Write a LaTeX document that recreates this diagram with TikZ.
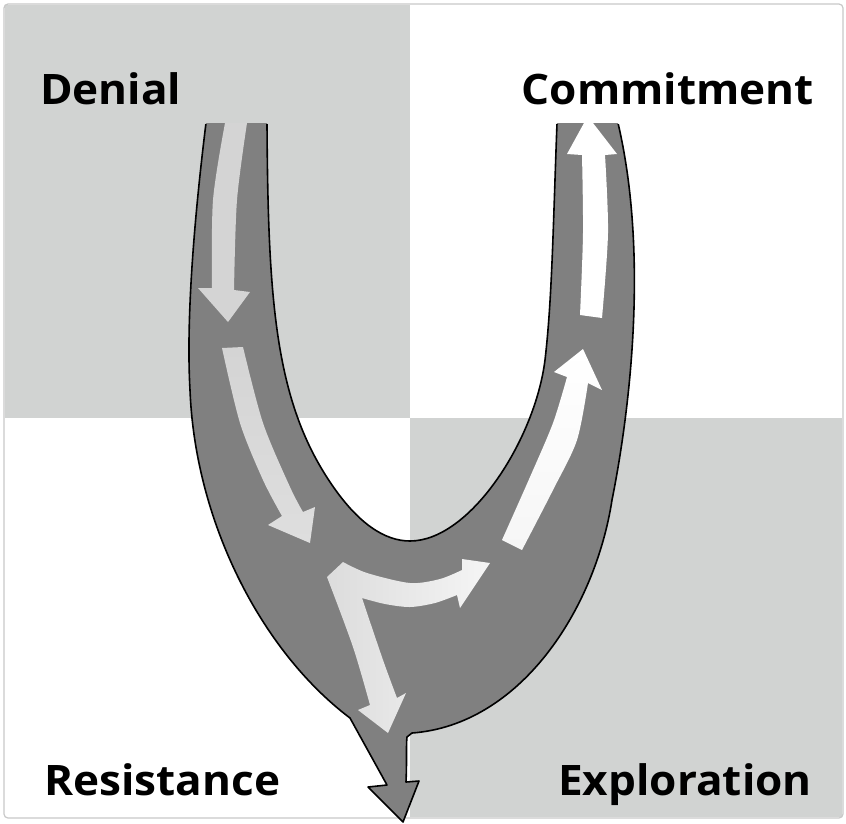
\documentclass[tikz,border=0pt]{standalone}
\usepackage{fontspec}
\setmainfont{Open Sans}
\definecolor{bggray}{RGB}{209,211,210}
\definecolor{ufill}{RGB}{128,128,128}
\definecolor{bordergray}{RGB}{200,200,200}
\definecolor{arrA}{RGB}{212,212,212}
\tikzset{
  lbl/.style={font=\fontsize{42}{44}\selectfont\bfseries, inner sep=0pt, xscale=1.05},
  uline/.style={draw=black, line width=1.6pt, line join=round},
}
\begin{document}
\begin{tikzpicture}[x=1pt,y=-1pt]
\useasboundingbox (0,0) rectangle (846,823);
\fill[white] (0,0) rectangle (846,823);
\fill[bggray] (5,5) rectangle (410,418);
\fill[bggray] (410,418) rectangle (842,817);
\draw[bordergray, line width=1.2pt, rounded corners=4pt] (4,4) rectangle (843,818);

\def\Upath{(206,123) .. controls (194,220) and (186,320) .. (190,390) .. controls (195,520) and (260,650) .. (350,718) -- (387,785) -- (368,787) -- (403,822) -- (419,781) -- (406,782) .. controls (407,760) and (406,745) .. (407,737) -- (412,733) .. controls (520,725) and (595,610) .. (612,500) .. controls (628,420) and (650,260) .. (618,123) -- (557,123) .. controls (553,230) and (552,300) .. (545,360) .. controls (535,440) and (470,541) .. (410,541) .. controls (385,541) and (358,524) .. (330,482) .. controls (275,400) and (268,300) .. (267,123) -- cycle}

\fill[ufill] \Upath;
\begin{scope}
\clip (0,124.5) rectangle (846,830);
\draw[uline] \Upath;
\end{scope}

% arrow 1 (Denial, down)
\fill[arrA] plot[smooth] coordinates {(225,123) (213,200) (212,288)} -- (198,288) -- (228,322) -- (250,292) -- (234,290) -- plot[smooth] coordinates {(234,290) (237,200) (247,123)} -- cycle;
% arrow 2
\shade[top color={rgb,255:red,212;green,212;blue,212}, bottom color={rgb,255:red,222;green,222;blue,222}] plot[smooth] coordinates {(222,348) (240,423) (263,480) (282,516)} -- (268,525) -- (310,543) -- (315,507) -- (303,512) -- plot[smooth] coordinates {(303,512) (290,487) (263,423) (243,347)} -- cycle;
% arrow 3 (fork)
\shade[left color={rgb,255:red,220;green,220;blue,220}, right color={rgb,255:red,245;green,245;blue,245}] (327,577) -- (343,562) -- plot[smooth] coordinates {(343,562) (367,573) (410,583) (440,579) (462,570)} -- (462,559) -- (490,563) -- (460,608) -- (457,595) -- plot[smooth] coordinates {(457,595) (435,603) (410,607) (385,604) (362,598)} -- plot[smooth] coordinates {(362,598) (383,660) (397,698)} -- (406,693) -- (388,733) -- (358,710) -- (370,705) -- plot[smooth] coordinates {(370,705) (353,647) (327,577)} -- cycle;
% arrow 4
\shade[bottom color={rgb,255:red,246;green,246;blue,246}, top color=white] plot[smooth] coordinates {(502,540) (530,477) (553,423) (567,377)} -- (554,372) -- (583,349) -- (602,390) -- (588,383) -- plot[smooth] coordinates {(588,383) (577,440) (553,490) (522,550)} -- cycle;
% arrow 5
\fill[white] plot[smooth] coordinates {(580,315) (583,233) (582,155)} -- (567,154) -- (584,123) -- (593,123) -- (617,154) -- (605,155) -- plot[smooth] coordinates {(605,155) (608,233) (602,318)} -- cycle;

\node[lbl, anchor=base west] (denial) at (40,104) {Denial};
\node[lbl, anchor=base east] (commit) at (814,104) {Commitment};
\node[lbl, anchor=base west] (resist) at (44,795) {Resistance};
\node[lbl, anchor=base east] (explor) at (812,795) {Exploration};
\end{tikzpicture}
\end{document}
